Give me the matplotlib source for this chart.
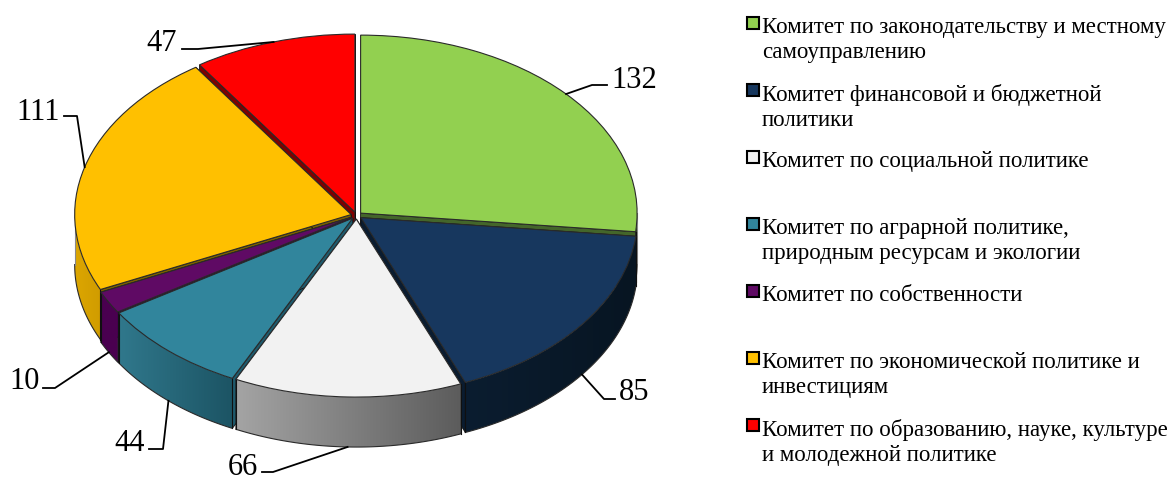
import numpy as np
import matplotlib
matplotlib.use("Agg")
import matplotlib.pyplot as plt
from matplotlib.colors import to_rgb
from matplotlib.patches import Rectangle, Polygon
from matplotlib.transforms import Affine2D

# ---- data ----
categories = [
    "Комитет по законодательству и местному\nсамоуправлению",
    "Комитет финансовой и бюджетной\nполитики",
    "Комитет по социальной политике",
    "Комитет по аграрной политике,\nприродным ресурсам и экологии",
    "Комитет по собственности",
    "Комитет по экономической политике и\nинвестициям",
    "Комитет по образованию, науке, культуре\nи молодежной политике",
]
values = [132, 85, 66, 44, 10, 111, 47]

# ---- styles ----
top_colors = ["#92D050", "#17375E", "#F2F2F2", "#31859C", "#5F0A64", "#FFC000", "#FF0000"]
wall_colors = ["#44662A", "#0A1C30", "#707070", "#1F5A6C", "#40004A", "#7A6000", "#7F0000"]
side_left = ["#2A3F1C", "#0B1D30", "#A4A4A4", "#30788C", "#4A0050", "#DCA600", "#A00000"]
side_right = ["#2A3F1C", "#071522", "#5C5C5C", "#1C5464", "#4A0050", "#D09C00", "#A00000"]
draw_rank = [2, 4, 6, 5, 3, 1, 0]   # painter's order, back to front

W, H = 1174, 480
CX, CY, RX, RY = 356.5, 215.5, 276.5, 178.0
DEPTH = 50.0 / RY
EXPLODE = 0.02

PX = Affine2D().scale(1, -1).translate(0, H)

fig = plt.figure(figsize=(W / 100, H / 100), dpi=100)
ax = fig.add_axes([0, 0, 1, 1])
EDGE = "#2a2a2a"
wedges, _ = ax.pie(values, explode=[EXPLODE] * len(values), colors=top_colors,
                   startangle=90, counterclock=False, radius=1.0,
                   wedgeprops=dict(edgecolor=EDGE, linewidth=0.8))

edges = np.cumsum([0] + values) / sum(values) * 2 * np.pi


def rim(a, o):
    return o[0] + np.sin(a), o[1] + np.cos(a)


origins = []
for i in range(len(values)):
    mid = (edges[i] + edges[i + 1]) / 2
    origins.append((EXPLODE * np.sin(mid), EXPLODE * np.cos(mid)))

for i, w in enumerate(wedges):
    z = 2 + draw_rank[i]
    w.set_zorder(z + 0.5)
    o = origins[i]
    a0, a1 = edges[i], edges[i + 1]
    # inner walls
    for a in (a0, a1):
        x, y = rim(a, o)
        ax.fill([o[0], x, x, o[0]], [o[1], y, y - DEPTH, o[1] - DEPTH],
                facecolor=wall_colors[i], edgecolor="#101010", linewidth=0.6, zorder=z + 0.1)
    # outer wall, front half only, with a left-to-right gradient
    s0, s1 = max(a0, np.pi / 2), min(a1, 3 * np.pi / 2)
    if s1 > s0:
        steps = np.linspace(s0, s1, 120)
        xs, ys = rim(steps, o)
        poly = np.column_stack([np.r_[xs, xs[::-1]], np.r_[ys, ys[::-1] - DEPTH]])
        c0, c1 = np.array(to_rgb(side_left[i])), np.array(to_rgb(side_right[i]))
        t = np.linspace(0, 1, 256)[:, None]
        grad = (c0 + (c1 - c0) * t)[None, :, :]
        im = ax.imshow(grad, extent=(xs.min(), xs.max(), poly[:, 1].min(), poly[:, 1].max()),
                       aspect="auto", interpolation="bilinear", zorder=z + 0.2)
        im.set_clip_path(Polygon(poly, closed=True, transform=ax.transData))
        ax.plot(xs, ys - DEPTH, color=EDGE, lw=0.8, zorder=z + 0.3)
        for a, xe, ye in ((s0, xs[0], ys[0]), (s1, xs[-1], ys[-1])):
            silhouette = np.isclose(abs(np.sin(a)), 1.0)
            ax.plot([xe, xe], [ye, ye - DEPTH], color="#8a8a8a" if silhouette else "#101010",
                    lw=0.8, zorder=z + 0.3)

ax.set_aspect("auto")
ax.set_xlim(-CX / RX, (W - CX) / RX)
ax.set_ylim((CY - H) / RY, CY / RY)
ax.axis("off")


def to_px(x, y):
    return CX + x * RX, CY - y * RY


# ---- value labels with leader lines ----
label_text_xy = [(634, 88), (634, 400), (243, 475), (130, 451), (25, 389), (38, 120), (162, 51)]
elbows = [[(592, 85), (607, 85)], [(604, 399), (615, 399)], [(273, 472), (262, 472)],
          [(163, 449), (149, 449)], [(55, 388), (43, 388)], [(77, 116), (64, 116)],
          [(198, 49), (182, 49)]]
for i, v in enumerate(values):
    mid = (edges[i] + edges[i + 1]) / 2
    x, y = rim(mid, origins[i])
    if np.cos(mid) < 0:
        y -= DEPTH
    pts = [to_px(x, y)] + elbows[i]
    ax.plot([p[0] for p in pts], [p[1] for p in pts], color="black", lw=1.3,
            transform=PX, zorder=20, clip_on=False)
    ax.text(*label_text_xy[i], str(v), transform=PX, family="Liberation Serif", fontsize=22,
            ha="center", va="baseline", color="black", zorder=20)

# ---- legend ----
LEG_Y0, LEG_DY = 22.5, 67
for i, cat in enumerate(categories):
    yc = LEG_Y0 + i * LEG_DY
    ax.add_patch(Rectangle((747, yc - 6), 12, 12, facecolor=top_colors[i], edgecolor="black",
                           linewidth=1.5, transform=PX, zorder=20, clip_on=False))
    ax.text(762, yc - 5.5, cat, transform=PX, family="Liberation Serif", fontsize=16.5,
            ha="left", va="top", linespacing=1.267, color="black", zorder=20)

fig.savefig("out.png", dpi=100, facecolor="white")
